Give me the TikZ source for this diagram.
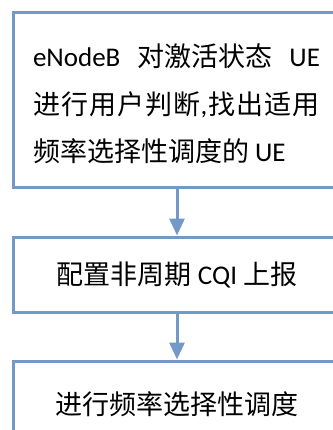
\documentclass[tikz,border=0pt]{standalone}
\usepackage{fontspec}
\setmainfont{Carlito}
\newfontfamily\cjk{Noto Sans CJK SC}
\usetikzlibrary{arrows.meta}
\definecolor{boxblue}{RGB}{116,153,199}
\begin{document}
\begin{tikzpicture}[x=1pt,y=-1pt,
  box/.style={draw=boxblue, line width=3pt, minimum width=328pt, inner sep=0pt},
  txt/.style={inner sep=0pt, font=\fontsize{27}{47.5}\selectfont},
  flow/.style={draw=boxblue, line width=3pt, -{Triangle[length=17pt,width=15pt]}}]
\useasboundingbox (0,0) rectangle (332,430);
\fill[white] (0,0) rectangle (332,430);
\node[box, minimum height=175pt] (b1) at (177,100.5) {};
\node[box, minimum height=75pt] (b2) at (177,274.5) {};
\node[box, minimum height=86pt] (b3) at (177,404) {};
\node[txt] (t1) at (176.5,104) {\parbox{287pt}{\fontsize{27}{47.5}\selectfont
  \makebox[287pt][s]{eNodeB {\cjk 对激活状态} UE}\\
  \makebox[287pt][s]{\cjk 进\hfil 行\hfil 用\hfil 户\hfil 判\hfil 断{\rmfamily ,}\hfil 找\hfil 出\hfil 适\hfil 用}\\
  {\cjk 频率选择性调度的} UE}};
\node[txt] (t2) at (b2.center) {{\cjk 配置非周期} CQI {\cjk 上报}};
\node[txt] (t3) at (b3.center) {\cjk 进行频率选择性调度};
\draw[flow] (b1.south) -- (b2.north);
\draw[flow] (b2.south) -- (b3.north);
\end{tikzpicture}
\end{document}
